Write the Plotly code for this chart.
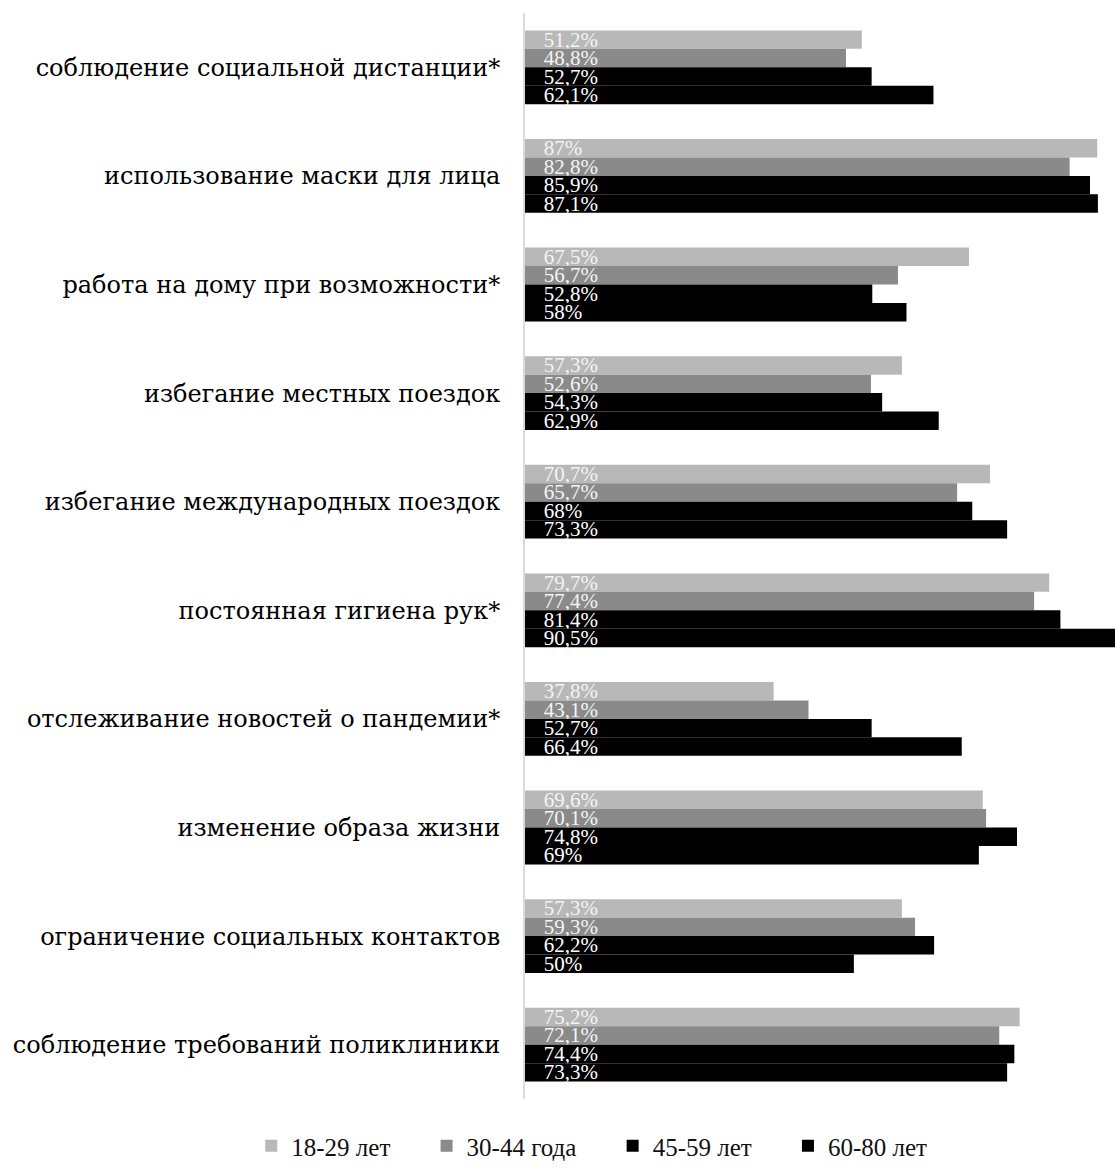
import plotly.graph_objects as go

categories = [
    "соблюдение социальной дистанции*",
    "использование маски для лица",
    "работа на дому при возможности*",
    "избегание местных поездок",
    "избегание международных поездок",
    "постоянная гигиена рук*",
    "отслеживание новостей о пандемии*",
    "изменение образа жизни",
    "ограничение социальных контактов",
    "соблюдение требований поликлиники",
]

series_names = ["18-29 лет", "30-44 года", "45-59 лет", "60-80 лет"]

age_18_29 = [51.2, 87, 67.5, 57.3, 70.7, 79.7, 37.8, 69.6, 57.3, 75.2]
age_30_44 = [48.8, 82.8, 56.7, 52.6, 65.7, 77.4, 43.1, 70.1, 59.3, 72.1]
age_45_59 = [52.7, 85.9, 52.8, 54.3, 68, 81.4, 52.7, 74.8, 62.2, 74.4]
age_60_80 = [62.1, 87.1, 58, 62.9, 73.3, 90.5, 66.4, 69, 50, 73.3]

series_values = [age_18_29, age_30_44, age_45_59, age_60_80]
colors = ["#b8b8b8", "#8a8a8a", "#000000", "#000000"]
text_colors = ["#f4f4f4", "#f4f4f4", "#ffffff", "#ffffff"]


def fmt(v):
    return "\u00a0\u00a0\u00a0" + f"{v:g}".replace(".", ",") + "%"


fig = go.Figure()
for name, vals, col, tcol in zip(series_names, series_values, colors, text_colors):
    fig.add_trace(go.Bar(
        y=categories,
        x=vals,
        name=name + "\u00a0" * 5,
        orientation="h",
        marker=dict(color=col, line=dict(width=0)),
        text=[fmt(v) for v in vals],
        textposition="inside",
        insidetextanchor="start",
        textangle=0,
        constraintext="none",
        textfont=dict(family="Liberation Serif", size=21, color=tcol),
        cliponaxis=True,
    ))

fig.update_layout(
    width=1115,
    height=1171,
    margin=dict(l=525, r=0, t=13, b=72),
    barmode="group",
    bargap=0.32,
    bargroupgap=0,
    paper_bgcolor="white",
    plot_bgcolor="white",
    showlegend=True,
    legend=dict(
        orientation="h",
        x=-0.464,
        xanchor="left",
        y=-0.0645,
        yanchor="bottom",
        font=dict(family="Liberation Serif", size=25, color="#111111"),
        traceorder="normal",
    ),
)
fig.update_xaxes(
    range=[0, 89.7],
    showticklabels=False,
    showgrid=False,
    zeroline=False,
    showline=False,
    ticks="",
)
fig.update_yaxes(
    type="category",
    range=[9.5, -0.5],
    showgrid=False,
    zeroline=False,
    showline=True,
    linecolor="#dadada",
    linewidth=2,
    ticks="",
    ticklabelstandoff=18,
    tickfont=dict(family="DejaVu Serif", size=24, color="#000000"),
)

fig.write_html("out.html")
